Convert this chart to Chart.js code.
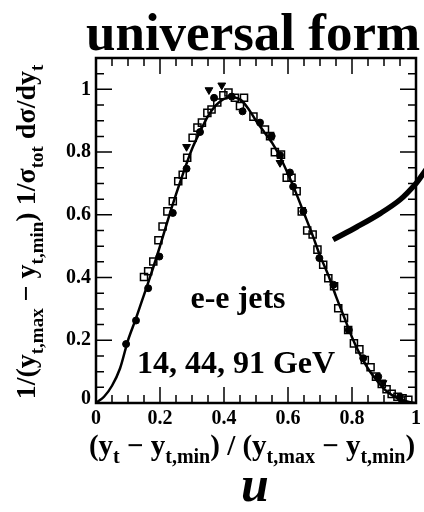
<!DOCTYPE html>
<html>
<head>
<meta charset="utf-8">
<script src="https://cdn.jsdelivr.net/npm/chart.js@4.4.1/dist/chart.umd.min.js"></script>
<style>
  html, body { margin: 0; padding: 0; background: #fff; }
  #wrap { width: 424px; height: 512px; }
</style>
</head>
<body>
<div id="wrap"><canvas id="c" width="424" height="512"></canvas></div>
<script>
// Scaled transverse-rapidity distribution, e+e- jets at 14, 44 and 91 GeV
const xTicks = [0, 0.2, 0.4, 0.6, 0.8, 1];
const xTickLabels = ["0", "0.2", "0.4", "0.6", "0.8", "1"];
const yTicks = [0, 0.2, 0.4, 0.6, 0.8, 1];
const yTickLabels = ["0", "0.2", "0.4", "0.6", "0.8", "1"];

// theory curve
const curveU = [0, 0.025, 0.05, 0.075, 0.1, 0.125, 0.15, 0.175, 0.2, 0.225, 0.25, 0.275, 0.3, 0.325, 0.35, 0.375, 0.4, 0.425, 0.45, 0.475, 0.5, 0.525, 0.55, 0.575, 0.6, 0.625, 0.65, 0.675, 0.7, 0.725, 0.75, 0.775, 0.8, 0.825, 0.85, 0.875, 0.9, 0.925, 0.95, 0.975, 1];
const curveY = [0, 0.02, 0.055, 0.11, 0.2, 0.27, 0.345, 0.42, 0.5, 0.585, 0.665, 0.74, 0.81, 0.865, 0.915, 0.95, 0.97, 0.975, 0.968, 0.94, 0.9, 0.865, 0.83, 0.785, 0.73, 0.67, 0.605, 0.54, 0.47, 0.41, 0.34, 0.275, 0.21, 0.155, 0.11, 0.075, 0.045, 0.025, 0.012, 0.004, 0];

// filled circles
const circU = [0.094, 0.125, 0.163, 0.198, 0.24, 0.283, 0.325, 0.369, 0.424, 0.458, 0.5125, 0.549, 0.575, 0.606, 0.616, 0.648, 0.698, 0.742, 0.79, 0.835, 0.882, 0.95];
const circY = [0.188, 0.263, 0.366, 0.467, 0.606, 0.747, 0.864, 0.973, 0.977, 0.93, 0.894, 0.851, 0.79, 0.735, 0.69, 0.611, 0.462, 0.377, 0.233, 0.143, 0.084, 0.02];

// open squares
const sqU = [0.15, 0.163, 0.179, 0.195, 0.208, 0.223, 0.24, 0.257, 0.271, 0.285, 0.302, 0.317, 0.331, 0.348, 0.361, 0.379, 0.398, 0.414, 0.434, 0.45, 0.4625, 0.492, 0.528, 0.544, 0.559, 0.578, 0.596, 0.611, 0.627, 0.643, 0.66, 0.677, 0.692, 0.71, 0.726, 0.744, 0.757, 0.775, 0.788, 0.806, 0.823, 0.84, 0.858, 0.875, 0.893, 0.908, 0.924, 0.942, 0.958, 0.976];
const sqY = [0.402, 0.42, 0.451, 0.519, 0.563, 0.611, 0.643, 0.707, 0.728, 0.782, 0.846, 0.878, 0.894, 0.925, 0.936, 0.958, 0.981, 0.99, 0.973, 0.947, 0.973, 0.913, 0.872, 0.851, 0.8, 0.792, 0.718, 0.718, 0.675, 0.611, 0.55, 0.537, 0.489, 0.441, 0.398, 0.372, 0.302, 0.271, 0.233, 0.19, 0.171, 0.137, 0.114, 0.084, 0.061, 0.044, 0.029, 0.02, 0.015, 0.01];

// filled down-triangles
const triU = [0.283, 0.353, 0.393, 0.575, 0.897];
const triY = [0.817, 0.998, 1.013, 0.766, 0.064];

// thick stroke running out past the right edge (listed right to left so
// the line controller doesn't trim the part beyond x = 1)
const arcU = [1.045, 1.025, 1.0, 0.95, 0.8875, 0.816, 0.741];
const arcY = [0.765, 0.735, 0.7, 0.648, 0.604, 0.562, 0.521];

const pts = (xs, ys) => xs.map((x, i) => ({ x: x, y: ys[i] }));
const SERIF = '"Liberation Serif", "DejaVu Serif", serif';

// draw a run of [text, isSub] pieces starting at x along the baseline
function runWidth(ctx, parts, big, small) {
    let w = 0;
    parts.forEach(p => {
        ctx.font = 'bold ' + (p[1] ? small : big) + 'px ' + SERIF;
        w += ctx.measureText(p[0]).width;
    });
    return w;
}
function drawRun(ctx, parts, x, y, big, small, drop) {
    parts.forEach(p => {
        ctx.font = 'bold ' + (p[1] ? small : big) + 'px ' + SERIF;
        ctx.fillText(p[0], x, p[1] ? y + drop : y);
        x += ctx.measureText(p[0]).width;
    });
}

const framePlugin = {
    id: 'frame',
    afterDraw(chart) {
        const ctx = chart.ctx;
        const a = chart.chartArea;
        const xs = chart.scales.x, ys = chart.scales.y;
        ctx.save();
        ctx.strokeStyle = '#000';
        ctx.fillStyle = '#000';

        // inner tick marks on all four sides
        ctx.lineWidth = 1.5;
        for (let i = 0; i <= 20; i++) {
            const v = i * 0.05;
            const len = i % 4 === 0 ? 16 : 8;
            const px = xs.getPixelForValue(v);
            ctx.beginPath();
            ctx.moveTo(px, a.bottom); ctx.lineTo(px, a.bottom - len);
            ctx.moveTo(px, a.top); ctx.lineTo(px, a.top + len);
            ctx.stroke();
        }
        for (let i = 0; i <= 22; i++) {
            const v = i * 0.05;
            const len = i % 4 === 0 ? 16 : 8;
            const py = ys.getPixelForValue(v);
            ctx.beginPath();
            ctx.moveTo(a.left, py); ctx.lineTo(a.left + len, py);
            ctx.moveTo(a.right, py); ctx.lineTo(a.right - len, py);
            ctx.stroke();
        }
        ctx.lineWidth = 2.5;
        ctx.strokeRect(a.left, a.top, a.right - a.left, a.bottom - a.top);

        // tick labels
        ctx.font = 'bold 20px ' + SERIF;
        ctx.textAlign = 'center';
        ctx.textBaseline = 'top';
        xTicks.forEach((v, i) => ctx.fillText(xTickLabels[i], xs.getPixelForValue(v), a.bottom + 6));
        ctx.textAlign = 'right';
        ctx.textBaseline = 'middle';
        yTicks.forEach((v, i) => ctx.fillText(yTickLabels[i], a.left - 5, ys.getPixelForValue(v) - (v === 0 ? 4 : 0)));

        // title
        ctx.textAlign = 'center';
        ctx.textBaseline = 'alphabetic';
        ctx.font = 'bold 53px ' + SERIF;
        ctx.fillText('universal form', 253, 50);

        // in-frame labels
        ctx.font = 'bold 32px ' + SERIF;
        ctx.fillText('e-e jets', 238, 308);
        ctx.fillText('14, 44, 91 GeV', 236, 373);

        // x axis title with subscripts
        ctx.textAlign = 'left';
        const xt = [['(y', 0], ['t', 1], [' \u2212 y', 0], ['t,min', 1], [') / (y', 0], ['t,max', 1], [' \u2212 y', 0], ['t,min', 1], [')', 0]];
        const xw = runWidth(ctx, xt, 29, 20);
        drawRun(ctx, xt, 252 - xw / 2, 455, 29, 20, 8);

        // big italic u
        ctx.textAlign = 'center';
        ctx.font = 'bold italic 50px ' + SERIF;
        ctx.fillText('u', 255, 501);

        // y axis title, rotated
        ctx.save();
        ctx.translate(35, 232);
        ctx.rotate(-Math.PI / 2);
        ctx.textAlign = 'left';
        const yt = [['1/(y', 0], ['t,max', 1], [' \u2212 y', 0], ['t,min', 1], [') 1/\u03c3', 0], ['tot', 1], [' d\u03c3/dy', 0], ['t', 1]];
        const yw = runWidth(ctx, yt, 28, 19);
        drawRun(ctx, yt, -yw / 2, 0, 28, 19, 8);
        ctx.restore();

        ctx.restore();
    }
};

new Chart(document.getElementById('c'), {
    type: 'scatter',
    data: {
        datasets: [
            { data: pts(curveU, curveY), showLine: true, borderColor: '#000', borderWidth: 2.5, pointRadius: 0, tension: 0.3 },
            { data: pts(circU, circY), pointStyle: 'circle', pointRadius: 3.5, backgroundColor: '#000', borderColor: '#000', borderWidth: 1 },
            { data: pts(sqU, sqY), pointStyle: 'rect', pointRadius: 5, backgroundColor: 'rgba(0,0,0,0)', borderColor: '#000', borderWidth: 1.5 },
            { data: pts(triU, triY), pointStyle: 'triangle', rotation: 180, pointRadius: 4.5, backgroundColor: '#000', borderColor: '#000', borderWidth: 1 },
            { data: pts(arcU, arcY), showLine: true, borderColor: '#000', borderWidth: 5.5, pointRadius: 0, tension: 0.35, clip: false, borderCapStyle: 'butt' }
        ]
    },
    options: {
        responsive: false,
        devicePixelRatio: 1,
        animation: false,
        layout: { padding: { left: 96, right: 8, top: 58, bottom: 109 } },
        plugins: { legend: { display: false }, tooltip: { enabled: false } },
        scales: {
            x: { type: 'linear', min: 0, max: 1, display: false },
            y: { type: 'linear', min: 0, max: 1.1, display: false }
        }
    },
    plugins: [framePlugin]
});
</script>
</body>
</html>
